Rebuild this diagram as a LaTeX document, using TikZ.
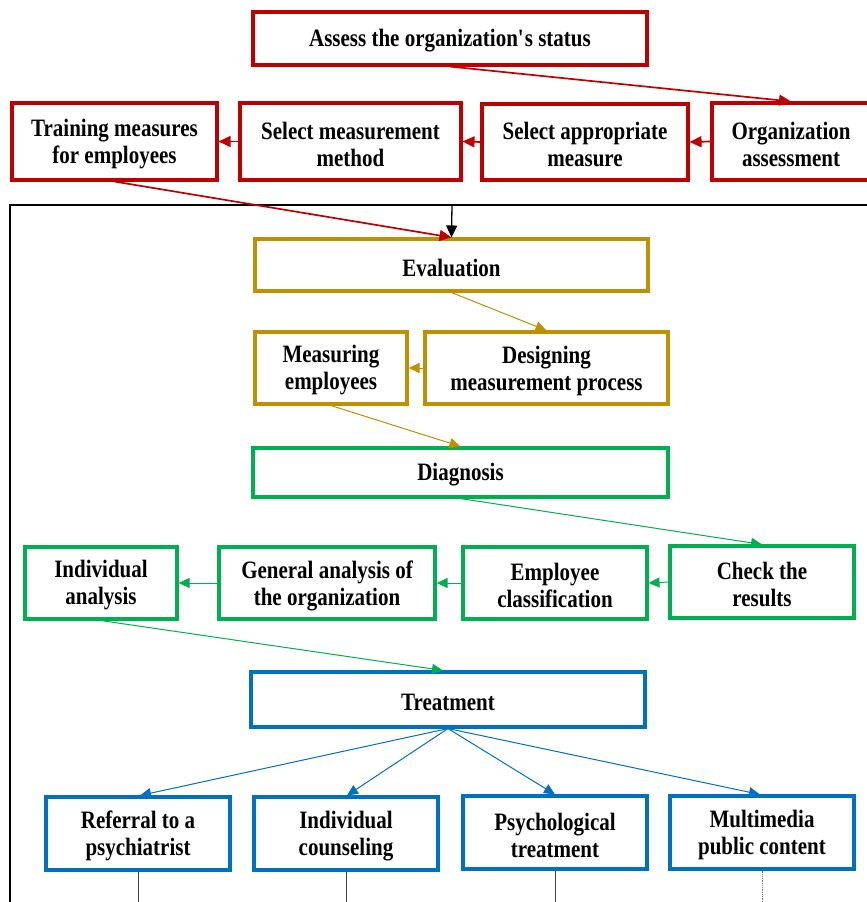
\documentclass[tikz,border=0pt]{standalone}
\usepackage{fontspec}
\setmainfont{Liberation Serif}[FakeStretch=0.84]
\usetikzlibrary{arrows.meta}
\definecolor{cred}{HTML}{C00000}
\definecolor{cgold}{HTML}{BF9000}
\definecolor{cgreen}{HTML}{00B050}
\definecolor{cblue}{HTML}{0070C0}
\begin{document}
\begin{tikzpicture}[x=1pt,y=-1pt,
  txt/.style={inner sep=0pt,align=center,yshift=-2.5pt,
    font=\fontsize{25}{27}\selectfont\bfseries,text=black},
  box/.style={draw,line width=3.1pt,fill=white,inner sep=0pt},
  boxred/.style={box,draw=cred},
  boxgold/.style={box,draw=cgold},
  boxgreen/.style={box,draw=cgreen},
  boxblue/.style={box,draw=cblue},
  arred/.style={draw=cred,line width=1.7pt,-{Triangle[length=12pt,width=11pt]}},
  argold/.style={draw=cgold,line width=1pt,-{Triangle[length=11pt,width=10pt]}},
  argreen/.style={draw=cgreen,line width=1pt,-{Triangle[length=11pt,width=10pt]}},
  arblue/.style={draw=cblue,line width=1pt,-{Triangle[length=11pt,width=10pt]}},
  fb/.style={draw=black,line width=1.3pt},
  drop/.style={draw=black!75,line width=0.8pt}]
\useasboundingbox (0,0) rectangle (867,902);
% red
\node[boxred,minimum width=394pt,minimum height=53pt,label={[txt]center:{Assess the organization\textquotesingle s status}}] (assess) at (450,38.5) {};
\node[boxred,minimum width=205pt,minimum height=77pt,label={[txt]center:{Training measures\\for employees}}] (train) at (114.5,141.5) {};
\node[boxred,minimum width=221pt,minimum height=77pt,label={[txt]center:{Select measurement\\method}}] (smm) at (350.5,141.5) {};
\node[boxred,minimum width=206pt,minimum height=76pt,label={[txt]center:{Select appropriate\\measure}}] (sam) at (585,142) {};
\node[boxred,minimum width=158pt,minimum height=77pt,label={[txt]center:{Organization\\assessment}}] (org) at (791,141.5) {};
% gold
\node[boxgold,minimum width=393pt,minimum height=52pt,label={[txt]center:{Evaluation}}] (eval) at (451.5,265) {};
\node[boxgold,minimum width=152pt,minimum height=72pt,label={[txt]center:{Measuring\\employees}}] (meas) at (331,368) {};
\node[boxgold,minimum width=243pt,minimum height=72pt,label={[txt]center:{Designing\\measurement process}}] (des) at (546.5,368) {};
% green
\node[boxgreen,minimum width=415pt,minimum height=49pt,label={[txt]center:{Diagnosis}}] (diag) at (460.5,472.5) {};
\node[boxgreen,minimum width=152pt,minimum height=72pt,label={[txt]center:{Individual\\analysis}}] (ind) at (101,583) {};
\node[boxgreen,minimum width=216pt,minimum height=72pt,label={[txt]center:{General analysis of\\the organization}}] (gen) at (327,583) {};
\node[boxgreen,minimum width=184pt,minimum height=72pt,label={[txt]center:{Employee\\classification}}] (emp) at (555,583) {};
\node[boxgreen,minimum width=184pt,minimum height=72pt,label={[txt]center:{Check the\\results}}] (chk) at (762,582) {};
% blue
\node[boxblue,minimum width=394pt,minimum height=55pt,label={[txt]center:{Treatment}}] (treat) at (448,699.5) {};
\node[boxblue,minimum width=184pt,minimum height=73pt,label={[txt]center:{Referral to a\\psychiatrist}}] (ref) at (138,833.5) {};
\node[boxblue,minimum width=184pt,minimum height=73pt,label={[txt]center:{Individual\\counseling}}] (cou) at (346,833.5) {};
\node[boxblue,minimum width=184pt,minimum height=73pt,label={[txt]center:{Psychological\\treatment}}] (psy) at (555,832.5) {};
\node[boxblue,minimum width=184pt,minimum height=73pt,label={[txt]center:{Multimedia\\public content}}] (mul) at (762,832.5) {};
% feedback frame
\coordinate (fbl) at (10,902);
\coordinate (fbc) at (10,205);
\coordinate (fbr) at (870,205);
\coordinate (fbt) at (452,205);
\draw[fb] (fbl) -- (fbc) -- (fbr);
\draw[fb,-{Triangle[length=12pt,width=11pt]}] (fbt) -- (eval.north);
% red arrows
\draw[arred] (assess.south) -- (org.north);
\draw[arred] (org.west) -- (sam.east);
\draw[arred] (sam.west) -- (smm.east);
\draw[arred] (smm.west) -- (train.east);
\draw[arred] (train.south) -- (eval.north);
% gold arrows
\draw[argold] (eval.south) -- (des.north);
\draw[argold] (des.west) -- (meas.east);
\draw[argold] (meas.south) -- (diag.north);
% green arrows
\draw[argreen] (diag.south) -- (chk.north);
\draw[argreen] (chk.west) -- (emp.east);
\draw[argreen] (emp.west) -- (gen.east);
\draw[argreen] (gen.west) -- (ind.east);
\draw[argreen] (ind.south) -- ([xshift=-5pt]treat.north);
% blue arrows
\draw[arblue] (treat.south) -- ([xshift=2pt]ref.north);
\draw[arblue] (treat.south) -- ([xshift=1pt]cou.north);
\draw[arblue] (treat.south) -- (psy.north);
\draw[arblue] (treat.south) -- ([xshift=-2pt]mul.north);
% drops
\coordinate (d1) at (138,902);
\coordinate (d2) at (346,902);
\coordinate (d3) at (555,902);
\coordinate (d4) at (762,902);
\draw[drop] (ref.south) -- (d1);
\draw[drop] (cou.south) -- (d2);
\draw[drop] (psy.south) -- (d3);
\draw[drop,draw=black!55,densely dotted] (mul.south) -- (d4);
\end{tikzpicture}
\end{document}
